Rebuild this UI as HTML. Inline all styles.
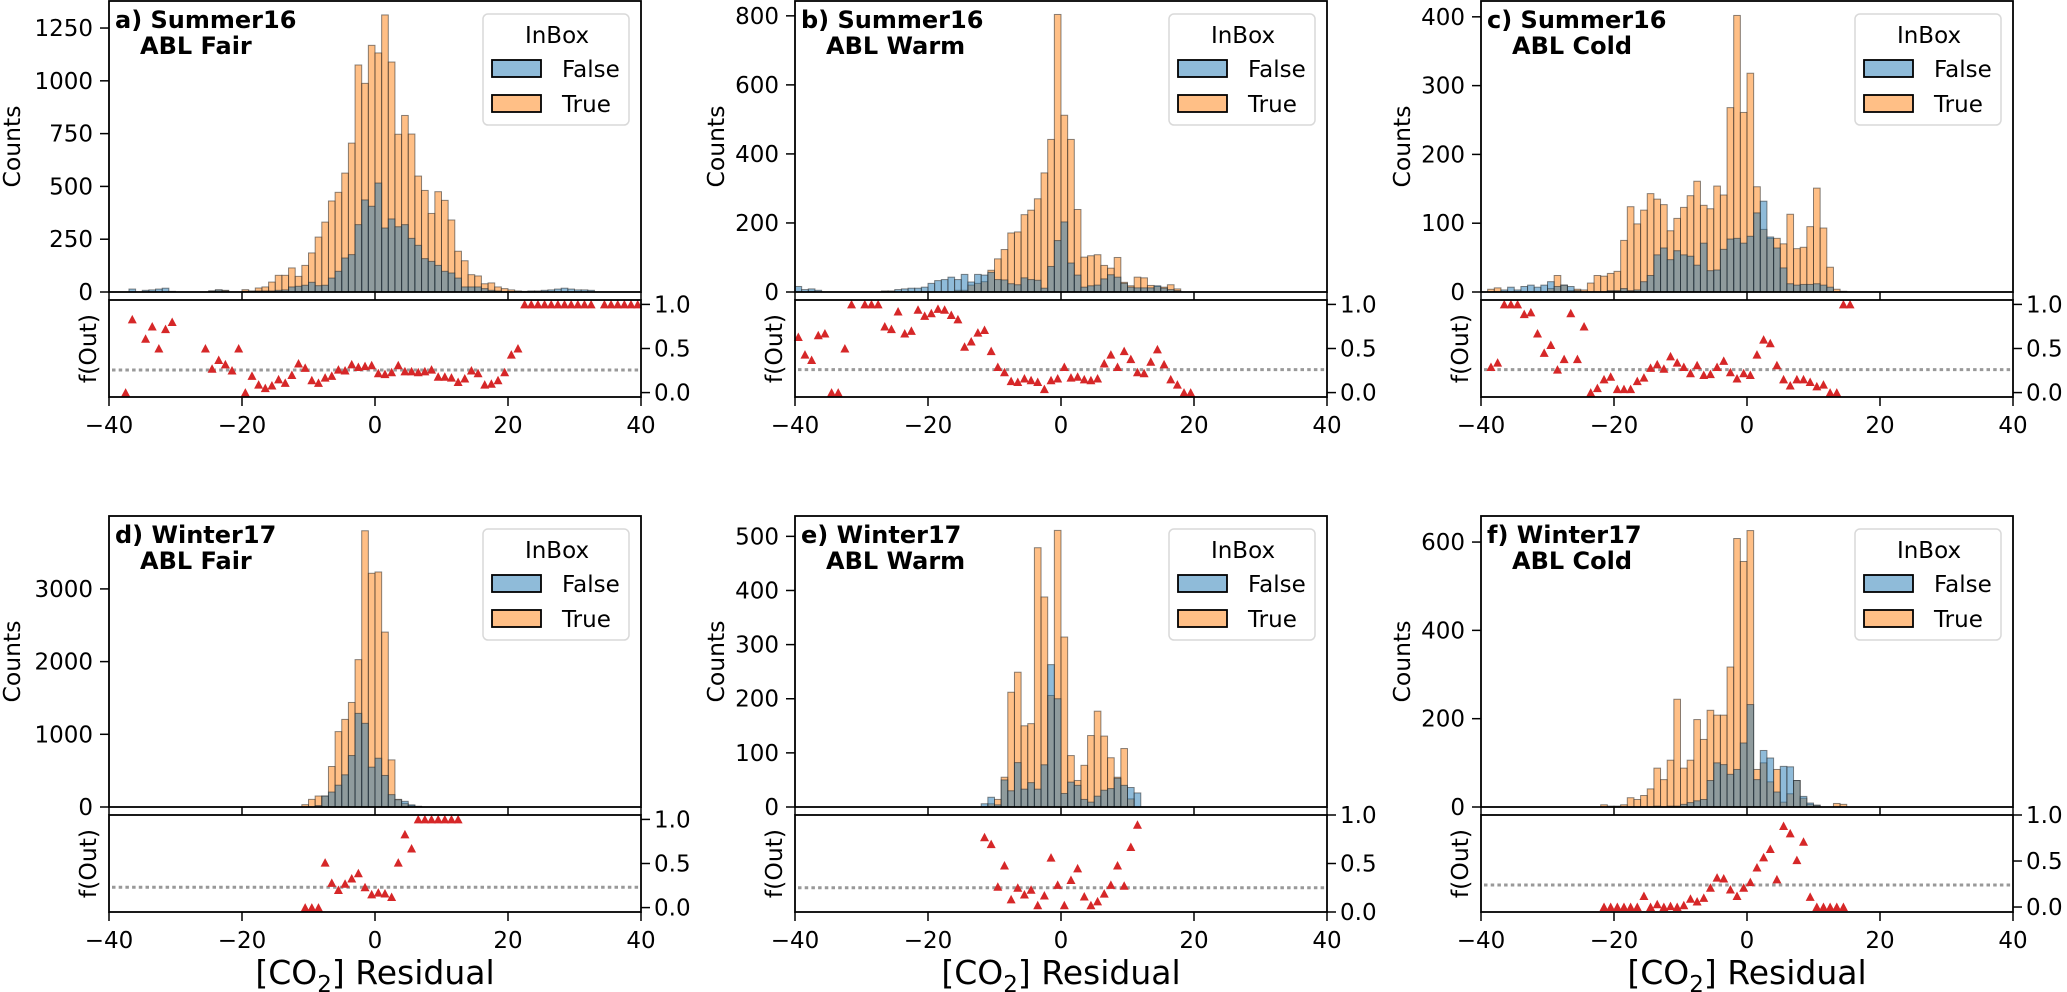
<!DOCTYPE html>
<html><head><meta charset="utf-8"><title>CO2 residual histograms</title>
<style>
html,body{margin:0;padding:0;background:#fff;}
svg{display:block;font-family:"DejaVu Sans","Liberation Sans",sans-serif;}
</style></head>
<body>
<svg id="fig" xmlns="http://www.w3.org/2000/svg" width="2067" height="992" viewBox="0 0 2067 992"></svg>
<script>
// ---------- data ----------
const aBins=[-37,-36,-35,-34,-33,-32,-31,-30,-29,-28,-27,-26,-25,-24,-23,-22,-21,-20,-19,-18,-17,-16,-15,-14,-13,-12,-11,-10,-9,-8,-7,-6,-5,-4,-3,-2,-1,0,1,2,3,4,5,6,7,8,9,10,11,12,13,14,15,16,17,18,19,20,21,22,23,24,25,26,27,28,29,30,31,32];
const aTrue=[0,0,0,0,0,0,0,0,0,0, 0,0,5,10,8,0,0,11,5,19, 24,47,79,79,114,74,126,185,260,331, 431,472,563,705,1075,988,1168,1132,1312,1089, 747,836,748,549,481,372,475,434,341,193, 148,82,76,39,43,24,16,10,5,0, 0,0,0,0,0,0,0,0,0,0];
const aFalse=[14,0,8,10,14,18,3,0,0,0, 0,0,5,10,6,0,0,3,3,5, 5,5,8,10,24,27,32,46,30,32, 66,98,161,177,319,436,406,516,303,346, 309,319,254,221,158,145,126,98,90,66, 24,24,24,16,8,5,0,0,0,3, 5,5,8,10,14,18,14,10,10,8];
const aFx=[-37.5,-36.5,-34.5,-33.5,-32.5,-31.5,-30.5,-25.5,-24.5,-23.5,-22.5,-21.5,-20.5,-19.5,-18.5,-17.5,-16.5,-15.5,-14.5,-13.5,-12.5,-11.5,-10.5,-9.5,-8.5,-7.5,-6.5,-5.5,-4.5,-3.5,-2.5,-1.5,-0.5,0.5,1.5,2.5,3.5,4.5,5.5,6.5,7.5,8.5,9.5,10.5,11.5,12.5,13.5,14.5,15.5,16.5,17.5,18.5,19.5,20.5,21.5,22.5,23.5,24.5,25.5,26.5,27.5,28.5,29.5,30.5,31.5,32.5,34.5,35.5,36.5,37.5,38.5,39.5];
const aFy=[0,0.83,0.61,0.75,0.50,0.72,0.80,0.50,0.27,0.37,0.32,0.25,0.50,0,0.19,0.09,0.05,0.08,0.15,0.11,0.20,0.33,0.28,0.14,0.11,0.17,0.19,0.26,0.25,0.32,0.29,0.30,0.31,0.22,0.21,0.23,0.31,0.24,0.24,0.23,0.24,0.26,0.18,0.18,0.17,0.12,0.16,0.25,0.22,0.09,0.10,0.14,0.23,0.43,0.50,1,1,1,1,1,1,1,1,1,1,1,1,1,1,1,1,1];
const aYTicks=[0,250,500,750,1000,1250];

const bBins=[-40,-39,-38,-37,-36,-35,-34,-33,-32,-31,-30,-29,-28,-27,-26,-25,-24,-23,-22,-21,-20,-19,-18,-17,-16,-15,-14,-13,-12,-11,-10,-9,-8,-7,-6,-5,-4,-3,-2,-1,0,1,2,3,4,5,6,7,8,9,10,11,12,13,14,15,16,17];
const bTrue=[0,0,2,0,0,0,0,0,0,0, 0,0,0,0,0,0,0,0,0,0, 0,0,0,0,5,5,20,25,30,63, 96,123,171,174,224,237,270,345,442,804, 512,442,239,101,105,108,77,69,100,28, 18,43,41,19,16,14,21,9];
const bFalse=[16,7,9,5,0,0,0,0,0,0, 0,0,0,3,3,7,9,11,11,14, 25,33,36,43,36,51,29,51,49,57, 36,35,24,21,41,36,34,11,74,149, 203,84,49,14,18,20,38,50,43,25, 14,12,12,12,18,11,7,4];
const bFx=[-39.5,-38.5,-37.5,-36.5,-35.5,-34.5,-33.5,-32.5,-31.5,-29.5,-28.5,-27.5,-26.5,-25.5,-24.5,-23.5,-22.5,-21.5,-20.5,-19.5,-18.5,-17.5,-16.5,-15.5,-14.5,-13.5,-12.5,-11.5,-10.5,-9.5,-8.5,-7.5,-6.5,-5.5,-4.5,-3.5,-2.5,-1.5,-0.5,0.5,1.5,2.5,3.5,4.5,5.5,6.5,7.5,8.5,9.5,10.5,11.5,12.5,13.5,14.5,15.5,16.5,17.5,18.5,19.5];
const bFy=[0.63,0.43,0.37,0.65,0.67,0,0,0.50,1,1,1,1,0.75,0.72,0.92,0.67,0.70,0.94,0.87,0.90,0.95,0.94,0.88,0.83,0.52,0.58,0.68,0.71,0.47,0.29,0.23,0.13,0.12,0.16,0.14,0.12,0.04,0.14,0.16,0.29,0.17,0.18,0.15,0.14,0.16,0.33,0.43,0.29,0.47,0.38,0.23,0.22,0.35,0.49,0.32,0.15,0.09,0,0];
const bYTicks=[0,200,400,600,800];

const cBins=[-39,-38,-37,-36,-35,-34,-33,-32,-31,-30,-29,-28,-27,-26,-25,-24,-23,-22,-21,-20,-19,-18,-17,-16,-15,-14,-13,-12,-11,-10,-9,-8,-7,-6,-5,-4,-3,-2,-1,0,1,2,3,4,5,6,7,8,9,10,11,12,13,14];
const cTrue=[4,6,0,0,0,0,0,0,0,5, 24,10,2,4,3,13,24,23,27,30, 75,124,99,119,143,135,127,89,107,123, 140,161,126,121,154,141,268,402,261,318, 153,91,78,78,70,113,63,65,95,151, 93,36,4,1];
const cFalse=[0,0,3,7,3,8,10,7,10,15, 8,10,8,2,0,0,0,0,2,2, 5,2,3,15,24,54,64,47,60,54, 52,39,71,31,32,62,77,78,71,81, 115,132,80,64,35,12,10,11,11,12, 10,7,0,0];
const cFx=[-38.5,-37.5,-36.5,-35.5,-34.5,-33.5,-32.5,-31.5,-30.5,-29.5,-28.5,-27.5,-26.5,-25.5,-24.5,-23.5,-22.5,-21.5,-20.5,-19.5,-18.5,-17.5,-16.5,-15.5,-14.5,-13.5,-12.5,-11.5,-10.5,-9.5,-8.5,-7.5,-6.5,-5.5,-4.5,-3.5,-2.5,-1.5,-0.5,0.5,1.5,2.5,3.5,4.5,5.5,6.5,7.5,8.5,9.5,10.5,11.5,12.5,13.5,14.5,15.5];
const cFy=[0.29,0.34,1,1,1,0.89,0.91,0.67,0.45,0.54,0.26,0.38,0.90,0.38,0.75,0,0.05,0.15,0.18,0.04,0.04,0.04,0.13,0.17,0.28,0.32,0.27,0.41,0.34,0.29,0.22,0.31,0.20,0.21,0.29,0.36,0.23,0.16,0.22,0.20,0.43,0.60,0.56,0.31,0.15,0.08,0.15,0.15,0.12,0.07,0.09,0,0,1,1];
const cYTicks=[0,100,200,300,400];

const dBins=[-11,-10,-9,-8,-7,-6,-5,-4,-3,-2,-1,0,1,2,3,4,5,6];
const dTrue=[32,105,151,151,557,1037,1205,1438,2027,3800,3215,3233,2406,648,105,50,20,5];
const dFalse=[0,0,20,151,206,300,443,708,1288,1151,548,671,434,170,100,78,30,10];
const dFx=[-10.5,-9.5,-8.5,-7.5,-6.5,-5.5,-4.5,-3.5,-2.5,-1.5,-0.5,0.5,1.5,2.5,3.5,4.5,5.5,6.5,7.5,8.5,9.5,10.5,11.5,12.5];
const dFy=[0,0,0,0.51,0.28,0.20,0.27,0.33,0.39,0.23,0.15,0.17,0.16,0.12,0.51,0.83,0.67,1,1,1,1,1,1,1];
const dYTicks=[0,1000,2000,3000];

const eBins=[-12,-11,-10,-9,-8,-7,-6,-5,-4,-3,-2,-1,0,1,2,3,4,5,6,7,8,9,10,11];
const eTrue=[0,6,14,55,212,249,150,154,479,388,206,511,314,95,49,77,132,177,131,91,55,108,15,0];
const eFalse=[6,18,4,50,30,82,33,45,33,78,263,200,25,46,40,14,9,20,31,34,53,40,36,26];
const eFx=[-11.5,-10.5,-9.5,-8.5,-7.5,-6.5,-5.5,-4.5,-3.5,-2.5,-1.5,-0.5,0.5,1.5,2.5,3.5,4.5,5.5,6.5,7.5,8.5,9.5,10.5,11.5];
const eFy=[0.77,0.70,0.26,0.48,0.13,0.25,0.18,0.23,0.07,0.17,0.56,0.28,0.07,0.33,0.45,0.16,0.07,0.11,0.19,0.28,0.48,0.27,0.67,0.90];
const eYTicks=[0,100,200,300,400,500];

const fBins=[-22,-21,-20,-19,-18,-17,-16,-15,-14,-13,-12,-11,-10,-9,-8,-7,-6,-5,-4,-3,-2,-1,0,1,2,3,4,5,6,7,8,9,10,11,12,13,14];
const fTrue=[5,2,2,5,21,17,26,41,88,62,106,244,88,106,198,153,219,208,208,317,608,556,626,85,100,57,85,11,30,60,20,6,4,0,0,8,6];
const fFalse=[0,0,0,0,0,0,0,0,2,0,2,2,6,10,14,17,60,100,96,74,85,145,232,62,128,111,34,92,91,60,24,9,4,0,0,0,0];
const fFx=[-21.5,-20.5,-19.5,-18.5,-17.5,-16.5,-15.5,-14.5,-13.5,-12.5,-11.5,-10.5,-9.5,-8.5,-7.5,-6.5,-5.5,-4.5,-3.5,-2.5,-1.5,-0.5,0.5,1.5,2.5,3.5,4.5,5.5,6.5,7.5,8.5,9.5,10.5,11.5,12.5,13.5,14.5];
const fFy=[0,0,0,0,0,0,0.12,0,0.03,0,0.01,0,0.02,0.09,0.06,0.10,0.21,0.32,0.31,0.19,0.12,0.21,0.27,0.43,0.54,0.63,0.30,0.88,0.80,0.51,0.71,0.11,0,0,0,0,0];
const fYTicks=[0,200,400,600];

const xTicks=[-40,-20,0,20,40];
const fTicks=[0,0.5,1];
const refLevels=[0.256,0.26,0.26,0.23,0.25,0.24];

// ---------- layout ----------
const NS='http://www.w3.org/2000/svg';
const svg=document.getElementById('fig');
const W=532;
const FS=23;
const panels=[
 {id:'a',left:109,top:1,bins:aBins,T:aTrue,F:aFalse,fx:aFx,fy:aFy,ticks:aYTicks,ymax:1378,flim:[-0.05,1.05],t1:'a) Summer16',t2:'ABL Fair',ylab:12,xl:false},
 {id:'b',left:795,top:1,bins:bBins,T:bTrue,F:bFalse,fx:bFx,fy:bFy,ticks:bYTicks,ymax:843,flim:[-0.05,1.05],t1:'b) Summer16',t2:'ABL Warm',ylab:716,xl:false},
 {id:'c',left:1481,top:1,bins:cBins,T:cTrue,F:cFalse,fx:cFx,fy:cFy,ticks:cYTicks,ymax:423,flim:[-0.05,1.05],t1:'c) Summer16',t2:'ABL Cold',ylab:1402,xl:false},
 {id:'d',left:109,top:516,bins:dBins,T:dTrue,F:dFalse,fx:dFx,fy:dFy,ticks:dYTicks,ymax:4003,flim:[-0.05,1.05],t1:'d) Winter17',t2:'ABL Fair',ylab:12,xl:true},
 {id:'e',left:795,top:516,bins:eBins,T:eTrue,F:eFalse,fx:eFx,fy:eFy,ticks:eYTicks,ymax:537.6,flim:[0,1.0],t1:'e) Winter17',t2:'ABL Warm',ylab:716,xl:true},
 {id:'f',left:1481,top:516,bins:fBins,T:fTrue,F:fFalse,fx:fFx,fy:fFy,ticks:fYTicks,ymax:659,flim:[-0.054,1.0],t1:'f) Winter17',t2:'ABL Cold',ylab:1402,xl:true}
];

function mk(tag,attrs,parent){
  const e=document.createElementNS(NS,tag);
  for(const k in attrs) e.setAttribute(k,attrs[k]);
  (parent||svg).appendChild(e);
  return e;
}

panels.forEach((p,pi)=>{
  const g=mk('g',{});
  
  
  const L=p.left, R=p.left+W;
  const hTop=p.top, hBot=p.top+291;
  const lTop=p.top+299, lBot=p.top+396;
  const xs=v=>L+(v+40)/80*W;
  const ys=c=>hBot-c*(291/p.ymax);
  const fs=v=>lBot-(v-p.flim[0])/(p.flim[1]-p.flim[0])*(lBot-lTop);

  p.bins.forEach((b,i)=>{
    if(p.T[i]>0){
      const r=mk('rect',{x:xs(b),y:ys(p.T[i]),width:xs(b+1)-xs(b),height:hBot-ys(p.T[i]),fill:'rgba(255,127,14,0.5)',stroke:'rgba(40,40,40,0.55)','stroke-width':1},g);
      
      
    }
  });
  p.bins.forEach((b,i)=>{
    if(p.F[i]>0){
      const r=mk('rect',{x:xs(b),y:ys(p.F[i]),width:xs(b+1)-xs(b),height:hBot-ys(p.F[i]),fill:'rgba(31,119,180,0.5)',stroke:'rgba(40,40,40,0.55)','stroke-width':1},g);
      
      
    }
  });
  const hf=mk('rect',{x:L,y:hTop,width:W,height:hBot-hTop,fill:'none',stroke:'#000','stroke-width':1.8},g);
  
  
  p.ticks.forEach(t=>{
    const y=ys(t);
    const tl=mk('line',{x1:L-9,x2:L,y1:y,y2:y,stroke:'#000','stroke-width':1.5},g);
    
    
    const tx=mk('text',{x:L-16,y:y+8,'text-anchor':'end','font-size':FS,fill:'#000'},g);
    tx.textContent=String(t);
    
    
  });
  xTicks.forEach(t=>{
    const x=xs(t);
    const tl=mk('line',{x1:x,x2:x,y1:hBot,y2:lTop,stroke:'#000','stroke-width':1.5},g);
    
    
  });
  const cl=mk('text',{x:p.ylab,y:(hTop+hBot)/2,'text-anchor':'middle','font-size':23.5,transform:'rotate(-90 '+p.ylab+' '+((hTop+hBot)/2)+')',dy:8},g);
  cl.textContent='Counts';
  
  
  const t1=mk('text',{x:L+6,y:hTop+27,'font-size':24,'font-weight':'bold'},g);
  t1.textContent=p.t1;
  
  
  const t2=mk('text',{x:L+31,y:hTop+53,'font-size':24,'font-weight':'bold'},g);
  t2.textContent=p.t2;
  
  
  const lg=mk('g',{},g);
  
  
  const lb=mk('rect',{x:L+374,y:hTop+13,width:146,height:111,rx:5,fill:'rgba(255,255,255,0.85)',stroke:'#d9d9d9','stroke-width':1.5},lg);
  
  
  const lt=mk('text',{x:L+448,y:hTop+42,'text-anchor':'middle','font-size':FS},lg);
  lt.textContent='InBox';
  
  
  const p1=mk('rect',{x:L+383,y:hTop+59,width:49,height:17,fill:'#8fbbd9',stroke:'#000','stroke-width':1.8},lg);
  
  
  const l1=mk('text',{x:L+453,y:hTop+76,'font-size':FS},lg);
  l1.textContent='False';
  
  
  const p2=mk('rect',{x:L+383,y:hTop+94,width:49,height:17,fill:'#ffbf86',stroke:'#000','stroke-width':1.8},lg);
  
  
  const l2=mk('text',{x:L+453,y:hTop+111,'font-size':FS},lg);
  l2.textContent='True';
  
  

  const ref=mk('line',{x1:L+3,x2:R,y1:fs(refLevels[pi]),y2:fs(refLevels[pi]),stroke:'#999','stroke-width':3,'stroke-dasharray':'3.5 3.2'},g);
  
  
  p.fx.forEach((x,i)=>{
    const cx=xs(x), cy=fs(p.fy[i]);
    const m=mk('polygon',{points:(cx-4.5)+','+(cy+4)+' '+(cx+4.5)+','+(cy+4)+' '+cx+','+(cy-4.5),fill:'#d62728'},g);
    
    
  });
  const lf=mk('rect',{x:L,y:lTop,width:W,height:lBot-lTop,fill:'none',stroke:'#000','stroke-width':1.8},g);
  
  
  fTicks.forEach(t=>{
    const y=fs(t);
    const tl=mk('line',{x1:R,x2:R+9,y1:y,y2:y,stroke:'#000','stroke-width':1.5},g);
    
    
    const tx=mk('text',{x:R+13,y:y+8,'font-size':FS},g);
    tx.textContent=t.toFixed(1);
    
    
  });
  const fl=mk('text',{x:L-21,y:(lTop+lBot)/2,'text-anchor':'middle','font-size':23.5,transform:'rotate(-90 '+(L-21)+' '+((lTop+lBot)/2)+')',dy:8},g);
  fl.textContent='f(Out)';
  
  
  xTicks.forEach(t=>{
    const x=xs(t);
    const tl=mk('line',{x1:x,x2:x,y1:lBot,y2:lBot+9,stroke:'#000','stroke-width':1.5},g);
    
    
    const tx=mk('text',{x:x,y:lBot+36,'text-anchor':'middle','font-size':FS},g);
    tx.textContent=(t<0?'\u2212':'')+Math.abs(t);
    
    
  });
  if(p.xl){
    const xt=mk('text',{x:L+W/2,y:lBot+72,'text-anchor':'middle','font-size':33},g);
    
    
    const s1=mk('tspan',{},xt); s1.textContent='[CO';
    const s2=mk('tspan',{'font-size':23,dy:8},xt); s2.textContent='2';
    const s3=mk('tspan',{dy:-8},xt); s3.textContent='] Residual';
  }
});
</script>
</body></html>
